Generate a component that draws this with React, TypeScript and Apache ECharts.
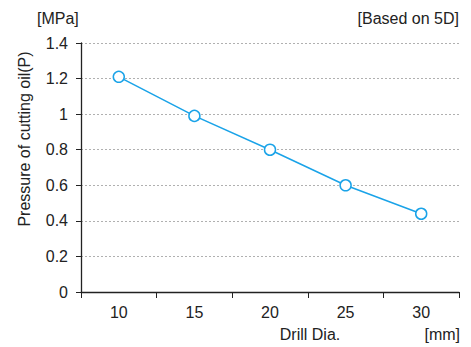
import React, { useEffect, useRef } from "react";
import * as echarts from "echarts";

const categories = ["10", "15", "20", "25", "30"];
const pressure = [1.21, 0.99, 0.8, 0.6, 0.44];
const yTicks = { min: 0, max: 1.4, interval: 0.2 };

export default function App() {
  const ref = useRef<HTMLDivElement>(null);
  useEffect(() => {
    if (!ref.current) return;
    const chart = echarts.init(ref.current, null, { renderer: "svg" });
    const font = "'Liberation Sans', Arial, Helvetica, sans-serif";
    const f = `16px ${font}`;
    chart.setOption({
      animation: false,
      backgroundColor: "#ffffff",
      textStyle: { fontFamily: font },
      grid: { left: 81, right: 12, top: 43, bottom: 55, containLabel: false },
      xAxis: {
        type: "category",
        data: categories,
        boundaryGap: true,
        axisLine: { lineStyle: { color: "#222", width: 1.3 } },
        axisTick: { show: true, length: 6, inside: false, lineStyle: { color: "#222" } },
        axisLabel: { color: "#222", fontSize: 16, margin: 12, fontFamily: font },
        splitLine: { show: false },
      },
      yAxis: {
        type: "value",
        min: yTicks.min,
        max: yTicks.max,
        interval: yTicks.interval,
        axisLine: { show: true, lineStyle: { color: "#222", width: 1.3 } },
        axisTick: { show: true, length: 5, lineStyle: { color: "#222" } },
        axisLabel: {
          color: "#222",
          fontSize: 16,
          margin: 13,
          fontFamily: font,
          formatter: (v: number) => String(Math.round(v * 10) / 10),
        },
        splitLine: { show: true, lineStyle: { color: "#b0b0b0", type: [2, 2], width: 1 } },
      },
      series: [
        {
          type: "line",
          data: pressure,
          symbol: "circle",
          symbolSize: 11,
          showSymbol: true,
          lineStyle: { color: "#1aa3e8", width: 1.5 },
          itemStyle: { color: "#ffffff", borderColor: "#1aa3e8", borderWidth: 1.5 },
        },
      ],
      graphic: [
        {
          type: "text",
          x: 37,
          y: 18,
          style: { text: "[MPa]", fill: "#222", font: f, align: "left", verticalAlign: "middle" },
        },
        {
          type: "text",
          x: 459,
          y: 18,
          style: { text: "[Based on 5D]", fill: "#222", font: f, align: "right", verticalAlign: "middle" },
        },
        {
          type: "text",
          x: 24,
          y: 139,
          rotation: Math.PI / 2,
          style: {
            text: "Pressure of cutting oil(P)",
            fill: "#222",
            font: f,
            align: "center",
            verticalAlign: "middle",
          },
        },
        {
          type: "text",
          x: 310,
          y: 334,
          style: { text: "Drill Dia.", fill: "#222", font: f, align: "center", verticalAlign: "middle" },
        },
        {
          type: "text",
          x: 460,
          y: 334,
          style: { text: "[mm]", fill: "#222", font: f, align: "right", verticalAlign: "middle" },
        },
      ],
    });
    return () => chart.dispose();
  }, []);
  return (
    <div
      ref={ref}
      style={{ position: "fixed", left: 0, top: 0, width: 471, height: 347 }}
    />
  );
}
